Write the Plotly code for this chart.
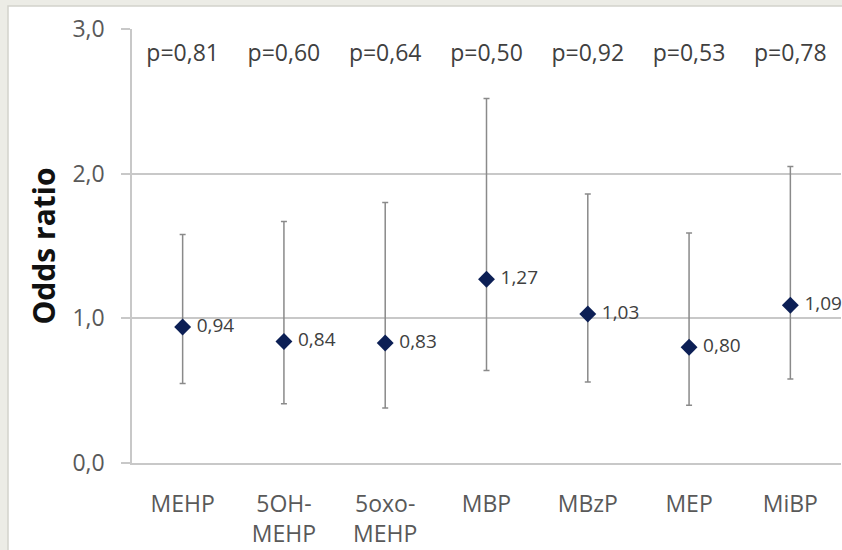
import plotly.graph_objects as go

# ---- data ----
categories = ["MEHP", "5OH-<br>MEHP", "5oxo-<br>MEHP", "MBP", "MBzP", "MEP", "MiBP"]
odds_ratio = [0.94, 0.84, 0.83, 1.27, 1.03, 0.80, 1.09]
ci_lower = [0.55, 0.41, 0.38, 0.64, 0.56, 0.40, 0.58]
ci_upper = [1.58, 1.67, 1.80, 2.52, 1.86, 1.59, 2.05]
p_values = ["p=0,81", "p=0,60", "p=0,64", "p=0,50", "p=0,92", "p=0,53", "p=0,78"]
y_tick_vals = [0, 1, 2, 3]
y_tick_text = ["0,0", "1,0", "2,0", "3,0"]
p_label_level = 2.82

FONT = "Open Sans"
GRID = "#c8c8c8"

err_plus = [u - o for u, o in zip(ci_upper, odds_ratio)]
err_minus = [o - l for o, l in zip(odds_ratio, ci_lower)]
or_text = [" " + f"{v:.2f}".replace(".", ",") for v in odds_ratio]

fig = go.Figure()
fig.add_trace(go.Scatter(
    x=categories, y=odds_ratio, mode="markers+text",
    marker=dict(symbol="diamond", size=13, color="#0c1f55"),
    error_y=dict(type="data", symmetric=False, array=err_plus, arrayminus=err_minus,
                 color="#8a8a8a", thickness=1.5, width=3),
    text=or_text, textposition="middle right",
    textfont=dict(family=FONT, size=19, color="#404040"),
    cliponaxis=False, showlegend=False, hoverinfo="skip",
))
fig.add_trace(go.Scatter(
    x=categories, y=[p_label_level] * len(categories), mode="text",
    text=p_values, textposition="middle center",
    textfont=dict(family=FONT, size=23, color="#404040"),
    cliponaxis=False, showlegend=False, hoverinfo="skip",
))

fig.update_layout(
    width=842, height=550,
    margin=dict(l=132, r=1, t=29, b=87, pad=0),
    paper_bgcolor="#ecece6",
    plot_bgcolor="rgba(0,0,0,0)",
    font=dict(family=FONT, size=23, color="#595959"),
    shapes=[dict(type="rect", xref="paper", yref="paper",
                 x0=(8 - 132) / 709, x1=(860 - 132) / 709,
                 y0=(463 - 570) / 434, y1=(463 - 6) / 434,
                 fillcolor="white", line=dict(color="#d2d2cc", width=1.5),
                 layer="below")],
    xaxis=dict(range=[-0.5, 6.5], showgrid=False, zeroline=False,
               showline=True, linecolor=GRID, linewidth=1.5, ticks="",
               ticklabelstandoff=20,
               tickfont=dict(family=FONT, size=23, color="#595959")),
    yaxis=dict(range=[0, 3], tickvals=y_tick_vals, ticktext=y_tick_text,
               showgrid=True, gridcolor=GRID, gridwidth=1.5, zeroline=False,
               showline=True, linecolor=GRID, linewidth=1.5,
               ticks="outside", ticklen=9, tickcolor=GRID, tickwidth=1.5,
               ticklabelstandoff=12,
               tickfont=dict(family=FONT, size=23, color="#595959"),
               title=dict(text="Odds ratio", standoff=8,
                          font=dict(family=FONT, size=30, color="#111111", weight="bold"))),
)

fig.write_html("out.html")
